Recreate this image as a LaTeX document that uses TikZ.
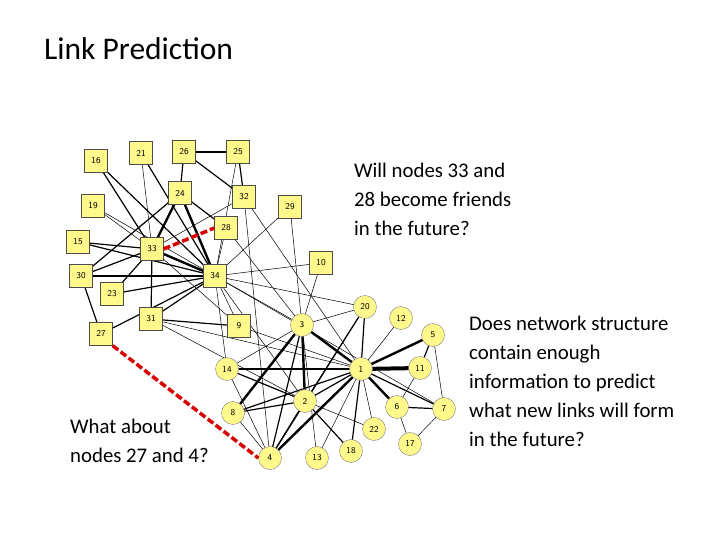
\documentclass[tikz,border=0pt]{standalone}
\usepackage{fontspec}
\setmainfont{Carlito}
\begin{document}
\begin{tikzpicture}[x=1pt,y=-1pt,
 sq/.style={draw=black!70,fill=yellow!45,minimum size=23pt,inner sep=0pt,font=\fontsize{9}{9}\selectfont\sffamily},
 ci/.style={circle,draw=black!50,fill=yellow!45,minimum size=23pt,inner sep=0pt,font=\fontsize{9}{9}\selectfont\sffamily},
 e/.style={line width=0.5pt},
 m/.style={line width=1.2pt},
 t/.style={line width=2.4pt},
 red/.style={draw=red!85!black,line width=3.5pt,dash pattern=on 7pt off 3pt},
 txt/.style={font=\fontsize{20.8}{29}\selectfont,align=left,anchor=north west,inner sep=0pt}]
\useasboundingbox (0,0) rectangle (720,540);
\fill[white] (0,0) rectangle (720,540);
\node[anchor=west,inner sep=0pt,font=\fontsize{31.5}{34}\selectfont] (title) at (44,49) {Link Prediction};
\foreach \n/\x/\y in {16/96/161,21/141/153,26/184/152,25/238/152,24/180/193,32/244/197,29/290/207,19/93/206,28/226/228,15/78/242,33/152/249,10/321/263,30/81/276,34/215/276,23/112/294,31/151/319,9/239/326,27/101/334}
  \coordinate (p\n) at (\x,\y);
\foreach \n/\x/\y in {3/302/325,20/365/307,12/401/318,5/433/335,1/361/369,11/420/368,14/227/369,2/305/401,8/233/413,6/397/407,7/444/409,22/374/429,17/410/444,18/351/451,13/317/458,4/270/458}
  \coordinate (p\n) at (\x,\y);
\foreach \a/\b in {25/34,32/33,32/1,29/34,29/3,19/33,19/34,28/3,10/3,10/34,34/9,33/9,31/2,34/20,34/3,34/14,34/7,32/4,3/14,3/13,12/1,5/7,6/11,6/17,7/17,1/13,1/22,14/4,8/4,2/22,20/2,34/2,31/1,9/1,3/20,28/34,21/33}
  \draw[e] (p\a) -- (p\b);
\foreach \a/\b in {26/25,26/24,26/32,25/32,21/34,16/33,16/34,24/28,24/30,15/33,15/34,30/34,30/33,30/27,23/33,23/34,31/33,31/34,31/9,27/34,20/1,20/4,3/4,1/14,1/2,1/7,1/18,1/8,14/2,2/8,2/4,2/18,6/7,5/11}
  \draw[m] (p\a) -- (p\b);
\foreach \a/\b in {24/33,24/34,33/34,3/1,3/2,3/8,5/1,1/11,1/4,1/6}
  \draw[t] (p\a) -- (p\b);
\draw[line width=4pt] (p1) -- (p11);
\foreach \n in {16,21,26,25,24,32,29,19,28,15,33,10,30,34,23,31,9,27}
  \node[sq] (n\n) at (p\n) {\n};
\foreach \n in {3,20,12,5,1,11,14,2,8,6,7,22,17,18,13,4}
  \node[ci] (n\n) at (p\n) {\n};
\draw[red] (n33.east) -- (n28.west);
\draw[red] (n27.south east) -- (n4.west);
\node[txt] (q1) at (354,163) {Will nodes 33 and\\28 become friends\\in the future?};
\node[txt] (q2) at (469,316) {Does network structure\\contain enough\\information to predict\\what new links will form\\in the future?};
\node[txt] (q3) at (70,419) {What about\\nodes 27 and 4?};
\end{tikzpicture}
\end{document}
